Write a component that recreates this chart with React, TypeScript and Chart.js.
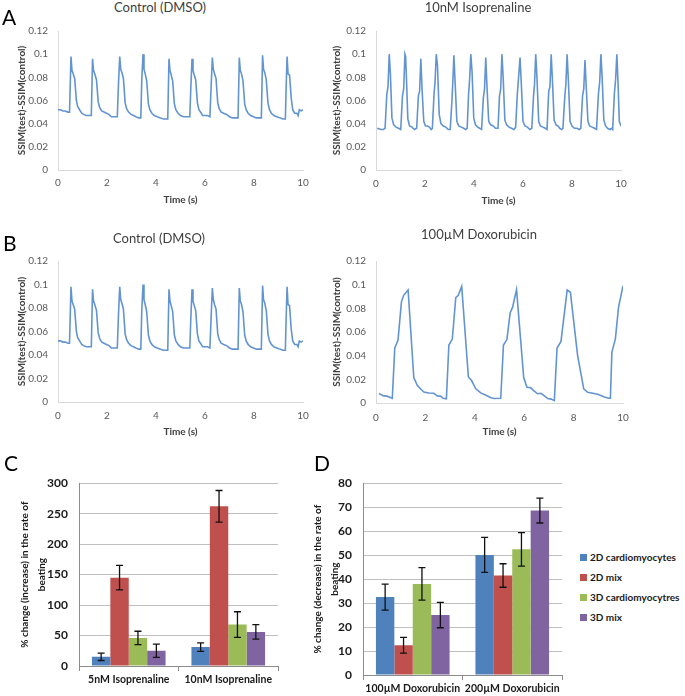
import React, { useEffect, useRef } from 'react';
import { Chart, registerables } from 'chart.js';

Chart.register(...registerables);

const FONT = 'Lato, "Open Sans", sans-serif';
const LINE_COLOR = '#6394d2';
const LIGHT_AXIS = '#d9d9d9';
const BAR_AXIS = '#8c8c8c';
const GRID = '#bfbfbf';

// ---------- data ----------
const timeTicks = [0, 2, 4, 6, 8, 10];
const ssimTicks = [0, 0.02, 0.04, 0.06, 0.08, 0.1, 0.12];

// Control (DMSO) trace: [time (s), SSIM difference]
const ctrlTrace: [number, number][] = [
  [0.0, 0.052], [0.1, 0.052], [0.2, 0.051], [0.3, 0.051], [0.4, 0.05], [0.47, 0.05],
  [0.53, 0.098], [0.57, 0.086], [0.62, 0.083], [0.68, 0.079], [0.75, 0.06], [0.8, 0.055], [0.88, 0.052], [0.97, 0.049], [1.05, 0.048], [1.15, 0.047], [1.25, 0.047], [1.36, 0.047],
  [1.41, 0.096], [1.45, 0.086], [1.5, 0.083], [1.57, 0.078], [1.64, 0.059], [1.7, 0.054], [1.78, 0.051], [1.88, 0.05], [1.98, 0.049], [2.08, 0.048], [2.18, 0.046], [2.3, 0.046], [2.42, 0.046], [2.47, 0.075],
  [2.52, 0.098], [2.56, 0.087], [2.61, 0.084], [2.67, 0.079], [2.74, 0.058], [2.8, 0.053], [2.88, 0.05], [2.98, 0.048], [3.08, 0.047], [3.18, 0.046], [3.3, 0.045], [3.38, 0.045], [3.42, 0.078],
  [3.47, 0.1], [3.51, 0.087], [3.56, 0.083], [3.62, 0.077], [3.69, 0.057], [3.75, 0.052], [3.83, 0.049], [3.93, 0.047], [4.05, 0.046], [4.18, 0.045], [4.3, 0.044], [4.4, 0.044], [4.48, 0.044],
  [4.53, 0.096], [4.57, 0.086], [4.62, 0.082], [4.68, 0.077], [4.75, 0.057], [4.81, 0.052], [4.9, 0.049], [5.0, 0.047], [5.12, 0.046], [5.25, 0.046], [5.38, 0.046], [5.42, 0.07],
  [5.47, 0.096], [5.51, 0.086], [5.56, 0.082], [5.62, 0.078], [5.69, 0.058], [5.75, 0.052], [5.85, 0.049], [5.9, 0.047], [6.0, 0.047], [6.1, 0.047], [6.2, 0.046], [6.25, 0.072],
  [6.3, 0.097], [6.34, 0.087], [6.39, 0.083], [6.45, 0.079], [6.52, 0.058], [6.58, 0.053], [6.66, 0.05], [6.76, 0.049], [6.88, 0.048], [7.0, 0.046], [7.12, 0.045], [7.25, 0.045], [7.35, 0.045],
  [7.4, 0.097], [7.44, 0.086], [7.49, 0.083], [7.55, 0.077], [7.62, 0.057], [7.68, 0.052], [7.76, 0.049], [7.86, 0.047], [7.98, 0.046], [8.1, 0.045], [8.22, 0.045], [8.3, 0.045],
  [8.35, 0.099], [8.39, 0.087], [8.44, 0.084], [8.5, 0.078], [8.57, 0.058], [8.63, 0.052], [8.71, 0.049], [8.81, 0.047], [8.93, 0.046], [9.05, 0.045], [9.18, 0.044], [9.28, 0.044], [9.31, 0.07],
  [9.35, 0.098], [9.39, 0.083], [9.45, 0.082], [9.52, 0.062], [9.58, 0.052], [9.66, 0.049], [9.75, 0.049], [9.8, 0.047], [9.85, 0.052], [9.93, 0.051], [10.0, 0.052],
];

// 10nM Isoprenaline trace
const isoTrace: [number, number][] = [
  [0.05, 0.036], [0.2, 0.035], [0.3, 0.035], [0.37, 0.036],
  [0.44, 0.065], [0.49, 0.072], [0.54, 0.1], [0.59, 0.082], [0.65, 0.045], [0.72, 0.039], [0.82, 0.037], [0.92, 0.036], [1.01, 0.035],
  [1.08, 0.064], [1.13, 0.07], [1.18, 0.1], [1.21, 0.098], [1.25, 0.075], [1.3, 0.044], [1.37, 0.038], [1.47, 0.037], [1.57, 0.035], [1.66, 0.036],
  [1.73, 0.064], [1.78, 0.068], [1.83, 0.096], [1.88, 0.07], [1.95, 0.042], [2.02, 0.038], [2.1, 0.038], [2.18, 0.037], [2.25, 0.035], [2.3, 0.036],
  [2.37, 0.066], [2.41, 0.076], [2.46, 0.1], [2.51, 0.09], [2.58, 0.048], [2.65, 0.04], [2.75, 0.038], [2.85, 0.037], [2.95, 0.035], [3.03, 0.035],
  [3.1, 0.06], [3.14, 0.078], [3.18, 0.099], [3.23, 0.075], [3.3, 0.042], [3.38, 0.038], [3.48, 0.037], [3.58, 0.036], [3.66, 0.035], [3.72, 0.036],
  [3.78, 0.066], [3.82, 0.078], [3.87, 0.1], [3.92, 0.085], [3.99, 0.045], [4.06, 0.039], [4.15, 0.037], [4.23, 0.036], [4.31, 0.035],
  [4.38, 0.062], [4.43, 0.07], [4.48, 0.097], [4.53, 0.072], [4.6, 0.042], [4.68, 0.039], [4.78, 0.038], [4.88, 0.036], [4.98, 0.036],
  [5.04, 0.064], [5.09, 0.07], [5.14, 0.1], [5.19, 0.08], [5.26, 0.043], [5.33, 0.039], [5.43, 0.037], [5.53, 0.036], [5.63, 0.035], [5.7, 0.037],
  [5.77, 0.066], [5.82, 0.08], [5.88, 0.097], [5.93, 0.075], [6.0, 0.042], [6.08, 0.038], [6.18, 0.037], [6.28, 0.035], [6.36, 0.036],
  [6.43, 0.064], [6.47, 0.074], [6.52, 0.1], [6.57, 0.08], [6.64, 0.042], [6.71, 0.038], [6.81, 0.037], [6.91, 0.036], [6.98, 0.035],
  [7.05, 0.068], [7.1, 0.072], [7.15, 0.1], [7.2, 0.078], [7.27, 0.043], [7.35, 0.039], [7.43, 0.038], [7.5, 0.036], [7.58, 0.035], [7.63, 0.036],
  [7.71, 0.065], [7.75, 0.074], [7.8, 0.1], [7.85, 0.078], [7.92, 0.042], [8.0, 0.038], [8.1, 0.036], [8.2, 0.036], [8.3, 0.035], [8.36, 0.036],
  [8.43, 0.064], [8.48, 0.07], [8.53, 0.095], [8.58, 0.072], [8.65, 0.042], [8.72, 0.038], [8.82, 0.037], [8.92, 0.036], [9.0, 0.035],
  [9.08, 0.066], [9.13, 0.076], [9.18, 0.1], [9.23, 0.08], [9.3, 0.043], [9.37, 0.038], [9.45, 0.036], [9.55, 0.035], [9.62, 0.036], [9.66, 0.035],
  [9.73, 0.066], [9.78, 0.078], [9.83, 0.1], [9.88, 0.075], [9.93, 0.042], [10.0, 0.038],
];

// 100µM Doxorubicin trace
const doxTrace: [number, number][] = [
  [0.12, 0.008], [0.31, 0.006], [0.45, 0.0058], [0.58, 0.0047], [0.66, 0.004],
  [0.76, 0.0465], [0.89, 0.053], [1.03, 0.0855], [1.12, 0.091], [1.3, 0.0955],
  [1.53, 0.0215], [1.67, 0.015], [1.8, 0.012], [1.94, 0.0093], [2.14, 0.0085], [2.34, 0.0082], [2.48, 0.006], [2.61, 0.0058], [2.72, 0.004], [2.85, 0.0035],
  [2.95, 0.049], [3.09, 0.054], [3.23, 0.089], [3.33, 0.091], [3.47, 0.0985],
  [3.74, 0.022], [3.87, 0.019], [4.04, 0.012], [4.24, 0.0085], [4.45, 0.0065], [4.65, 0.0045], [4.78, 0.0038], [5.05, 0.004],
  [5.16, 0.049], [5.3, 0.0536], [5.43, 0.076], [5.53, 0.081], [5.69, 0.0958],
  [5.98, 0.0215], [6.11, 0.0133], [6.25, 0.013], [6.41, 0.01], [6.54, 0.0078], [6.68, 0.0082], [6.82, 0.006], [6.95, 0.0038], [7.09, 0.0033], [7.22, 0.002],
  [7.33, 0.0465], [7.49, 0.052], [7.74, 0.0955], [7.87, 0.0936],
  [8.16, 0.0405], [8.41, 0.012], [8.57, 0.009], [8.98, 0.0074], [9.25, 0.005], [9.41, 0.004], [9.49, 0.004],
  [9.55, 0.043], [9.69, 0.054], [9.82, 0.081], [9.93, 0.092], [10.0, 0.099],
];

const seriesNames = ['2D cardiomyocytes', '2D mix', '3D cardiomyocytres', '3D mix'];
const seriesColors = ['#4F81BD', '#C0504D', '#9BBB59', '#8064A2'];

const isoCategories = ['5nM Isoprenaline', '10nM Isoprenaline'];
const isoMeans = [[15, 31], [145, 262], [46, 68], [25, 56]];
const isoErrors = [[6, 7], [20, 26], [11, 21], [11, 12]];
const isoTicks = [0, 50, 100, 150, 200, 250, 300];

const doxCategories = ['100µM Doxorubicin', '200µM Doxorubicin'];
const doxMeans = [[32.5, 50.1], [12.4, 41.5], [38, 52.4], [25, 68.6]];
const doxErrors = [[5.4, 7.3], [3.3, 4.9], [6.8, 7], [5.3, 5.2]];
const doxTicks = [0, 10, 20, 30, 40, 50, 60, 70, 80];

// ---------- helpers ----------
type Box = { left: number; top: number; width: number; height: number };
type Plot = { l: number; t: number; r: number; b: number };

function lineConfig(trace: [number, number][], box: Box, plot: Plot, yTitleX: number, xTitleY: number, xTickPad: number): any {
  const yW = plot.l - box.left;
  const xH = box.top + box.height - plot.b;
  return {
    type: 'line',
    data: {
      datasets: [{
        data: trace.map(([x, y]) => ({ x, y })),
        borderColor: LINE_COLOR,
        borderWidth: 1.6,
        pointRadius: 0,
        tension: 0,
        fill: false,
      }],
    },
    options: {
      responsive: false,
      animation: false,
      layout: { padding: { top: plot.t - box.top, right: box.left + box.width - plot.r, left: 0, bottom: 0 } },
      plugins: { legend: { display: false }, tooltip: { enabled: false } },
      scales: {
        x: {
          type: 'linear', min: 0, max: 10,
          afterBuildTicks: (s: any) => { s.ticks = timeTicks.map((v) => ({ value: v })); },
          afterFit: (s: any) => { s.height = xH; },
          grid: { display: false, drawTicks: false },
          border: { display: true, color: LIGHT_AXIS, width: 1 },
          ticks: { padding: xTickPad, color: '#595959', font: { family: FONT, size: 10 }, maxRotation: 0, callback: (v: any) => String(v) },
          title: {
            display: true, text: 'Time (s)', color: '#404040',
            font: { family: FONT, size: 10, weight: 'bold', lineHeight: 1.2 },
            padding: { top: 0, bottom: box.top + box.height - xTitleY - 6 },
          },
        },
        y: {
          min: 0, max: 0.12,
          afterBuildTicks: (s: any) => { s.ticks = ssimTicks.map((v) => ({ value: v })); },
          afterFit: (s: any) => { s.width = yW; },
          grid: { display: false, drawTicks: false },
          border: { display: true, color: LIGHT_AXIS, width: 1 },
          ticks: { padding: 10, color: '#595959', font: { family: FONT, size: 10 }, callback: (v: any) => String(parseFloat(Number(v).toFixed(3))) },
          title: {
            display: true, text: 'SSIM(test)-SSIM(control)', color: '#404040',
            font: { family: FONT, size: 10, weight: 'bold', lineHeight: 1.2 },
            padding: { top: yTitleX - box.left - 6, bottom: 0 },
          },
        },
      },
    },
  };
}

function errorBarPlugin(errors: number[][]) {
  return {
    id: 'errorBars',
    afterDatasetsDraw(chart: any) {
      const ctx = chart.ctx;
      const y = chart.scales.y;
      ctx.save();
      ctx.strokeStyle = '#111';
      ctx.lineWidth = 1.3;
      chart.data.datasets.forEach((ds: any, i: number) => {
        const meta = chart.getDatasetMeta(i);
        meta.data.forEach((bar: any, j: number) => {
          const v = ds.data[j] as number;
          const e = errors[i][j];
          const x = bar.x;
          const top = y.getPixelForValue(v + e);
          const bot = y.getPixelForValue(v - e);
          ctx.beginPath();
          ctx.moveTo(x, top); ctx.lineTo(x, bot);
          ctx.moveTo(x - 3.5, top); ctx.lineTo(x + 3.5, top);
          ctx.moveTo(x - 3.5, bot); ctx.lineTo(x + 3.5, bot);
          ctx.stroke();
        });
      });
      ctx.restore();
    },
  };
}

function barConfig(categories: string[], means: number[][], errors: number[][], ticks: number[], yTitle: string[], box: Box, plot: Plot, yTitleX: number): any {
  const yW = plot.l - box.left;
  const xH = box.top + box.height - plot.b;
  return {
    type: 'bar',
    data: {
      labels: categories,
      datasets: seriesNames.map((name, i) => ({
        label: name,
        data: means[i],
        backgroundColor: seriesColors[i],
        borderWidth: 0,
        categoryPercentage: 0.74,
        barPercentage: 1,
      })),
    },
    options: {
      responsive: false,
      animation: false,
      layout: { padding: { top: plot.t - box.top, right: box.left + box.width - plot.r, left: 0, bottom: 0 } },
      plugins: { legend: { display: false }, tooltip: { enabled: false } },
      scales: {
        x: {
          afterFit: (s: any) => { s.height = xH; },
          grid: { display: true, drawOnChartArea: false, drawTicks: true, tickLength: 5, color: BAR_AXIS, offset: true },
          border: { display: true, color: BAR_AXIS, width: 1 },
          ticks: { padding: 2, color: '#1a1a1a', maxRotation: 0, minRotation: 0, autoSkip: false, font: { family: FONT, size: 10.5, weight: 'bold' } },
        },
        y: {
          min: ticks[0], max: ticks[ticks.length - 1],
          afterBuildTicks: (s: any) => { s.ticks = ticks.map((v) => ({ value: v })); },
          afterFit: (s: any) => { s.width = yW; },
          grid: { color: GRID, drawTicks: false },
          border: { display: true, color: BAR_AXIS, width: 1 },
          ticks: { padding: 11, color: '#1a1a1a', font: { family: FONT, size: 12, weight: 'bold' } },
          title: {
            display: true, text: yTitle, color: '#1a1a1a',
            font: { family: FONT, size: 10, weight: 'bold', lineHeight: 1.7 },
            padding: { top: yTitleX - box.left - 8.5, bottom: 0 },
          },
        },
      },
    },
    plugins: [errorBarPlugin(errors)],
  };
}

function ChartBox({ box, config }: { box: Box; config: () => any }) {
  const ref = useRef<HTMLCanvasElement>(null);
  useEffect(() => {
    const chart = new Chart(ref.current as HTMLCanvasElement, config());
    return () => chart.destroy();
  }, []);
  return (
    <div style={{ position: 'absolute', left: box.left, top: box.top, width: box.width, height: box.height }}>
      <canvas ref={ref} width={box.width} height={box.height} style={{ width: box.width, height: box.height, display: 'block' }} />
    </div>
  );
}

function Text({ x, cy, size, children, bold, center, color }: any) {
  const style: any = {
    position: 'absolute',
    top: cy - size * 0.55,
    fontFamily: FONT,
    fontSize: size,
    lineHeight: `${size}px`,
    fontWeight: bold ? 'bold' : 'normal',
    color: color || '#404040',
    whiteSpace: 'nowrap',
  };
  if (center) {
    style.left = x - 150;
    style.width = 300;
    style.textAlign = 'center';
  } else {
    style.left = x;
  }
  return <div style={style}>{children}</div>;
}

const boxAL: Box = { left: 0, top: 15, width: 330, height: 200 };
const boxAR: Box = { left: 325, top: 15, width: 330, height: 200 };
const boxBL: Box = { left: 0, top: 245, width: 330, height: 200 };
const boxBR: Box = { left: 325, top: 245, width: 330, height: 200 };
const boxC: Box = { left: 0, top: 465, width: 300, height: 231 };
const boxD: Box = { left: 300, top: 465, width: 280, height: 231 };

const yTitleBars = ['% change (increase) in the rate of', 'beating'];
const yTitleBarsD = ['% change (decrease) in the rate of', 'beating'];

export default function App() {
  return (
    <div style={{ position: 'absolute', left: 0, top: 0, width: 685, height: 696, background: '#fff', overflow: 'hidden' }}>
      <ChartBox box={boxAL} config={() => lineConfig(ctrlTrace, boxAL, { l: 58, t: 27, r: 303, b: 170 }, 22, 200, 7)} />
      <ChartBox box={boxAR} config={() => lineConfig(isoTrace, boxAR, { l: 376, t: 28, r: 621, b: 170 }, 337, 201, 8)} />
      <ChartBox box={boxBL} config={() => lineConfig(ctrlTrace, boxBL, { l: 58, t: 258, r: 303, b: 402 }, 22, 432, 8)} />
      <ChartBox box={boxBR} config={() => lineConfig(doxTrace, boxBR, { l: 376, t: 256, r: 623, b: 403 }, 337, 432, 9)} />
      <ChartBox box={boxC} config={() => barConfig(isoCategories, isoMeans, isoErrors, isoTicks, yTitleBars, boxC, { l: 79, t: 482, r: 278, b: 666 }, 25)} />
      <ChartBox box={boxD} config={() => barConfig(doxCategories, doxMeans, doxErrors, doxTicks, yTitleBarsD, boxD, { l: 363, t: 483, r: 562, b: 675 }, 318)} />

      <Text x={160} cy={8} size={13} center>Control (DMSO)</Text>
      <Text x={478} cy={8} size={13} center>10nM Isoprenaline</Text>
      <Text x={159} cy={239} size={13} center>Control (DMSO)</Text>
      <Text x={479} cy={235} size={13} center>100µM Doxorubicin</Text>

      <Text x={2} cy={18} size={21} color="#000">A</Text>
      <Text x={3} cy={244} size={21} color="#000">B</Text>
      <Text x={4} cy={464} size={21} color="#000">C</Text>
      <Text x={314} cy={464} size={21} color="#000">D</Text>

      {seriesNames.map((name, i) => (
        <React.Fragment key={name}>
          <div style={{ position: 'absolute', left: 580, top: 557 + i * 20 - 3.5, width: 7, height: 7, background: seriesColors[i] }} />
          <Text x={590} cy={557 + i * 20} size={10} bold color="#1a1a1a">{name}</Text>
        </React.Fragment>
      ))}
    </div>
  );
}
